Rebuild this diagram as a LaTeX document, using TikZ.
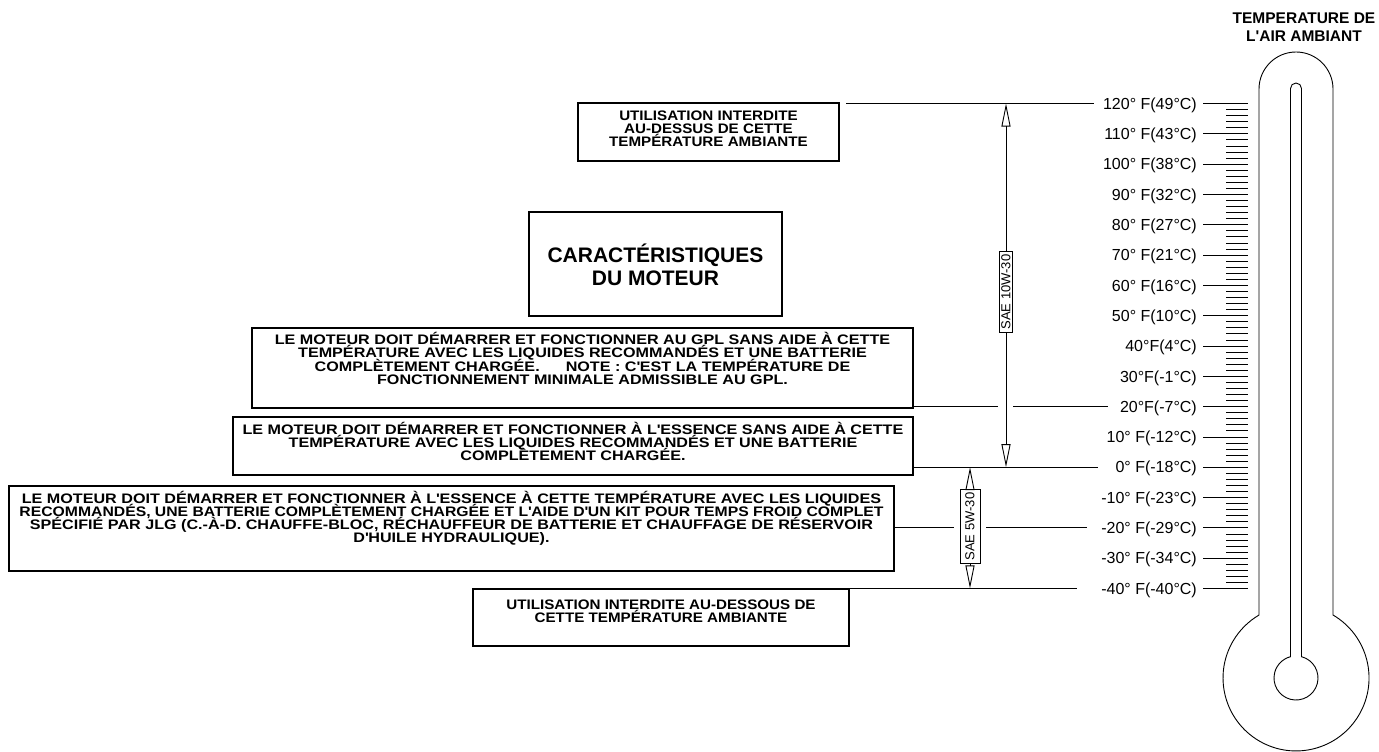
\documentclass[tikz,border=0pt]{standalone}
\usepackage{fontspec}
\setmainfont{Liberation Sans}
\newfontfamily\widesans{Liberation Sans}[FakeStretch=1.17]
\newfontfamily\midsans{Liberation Sans}[FakeStretch=1.1]
\usetikzlibrary{arrows.meta}
% text block of a framed note: width, height, baseline of first line from top, lines
\newcommand\noteblock[4]{\parbox[c][#2][t]{#1}{\lineskiplimit=-\maxdimen\centering
  \vspace*{\dimexpr#3-20pt\relax}\rule{0pt}{20pt}#4\par}}
\begin{document}
\begin{tikzpicture}[x=1pt,y=1pt,
  frame/.style={draw, line width=2pt, inner sep=0pt, anchor=north west},
  widenote/.style={font=\widesans\bfseries\fontsize{13.8}{13.3}\selectfont},
  midnote/.style={font=\midsans\bfseries\fontsize{13.8}{13.5}\selectfont},
  scalelabel/.style={anchor=east, inner sep=0pt, text height=11.5pt, text depth=0pt,
    font=\fontsize{16}{18}\selectfont},
  lead/.style={line width=0.9pt},
  tick/.style={line width=0.8pt},
  tube/.style={line width=0.9pt},
  grade/.style={draw, line width=0.8pt, fill=white, rotate=90,
    font=\fontsize{13}{15}\selectfont, inner xsep=3pt, inner ysep=2pt},
  gradearrow/.style={line width=0.9pt, -{Triangle[open, length=23pt, width=9pt]}},
]
\useasboundingbox (0,0) rectangle (1379,-752);

% ---- thermometer ----
\node[align=center, font=\bfseries\fontsize{15.5}{18.5}\selectfont] (title) at (1304,-27)
  {TEMPERATURE DE\\L\textquotesingle AIR AMBIANT};
\draw[tube] (1259,-615) -- (1259,-89) arc[start angle=180, end angle=0, radius=37]
  -- (1333,-615) arc[start angle=59.57, end angle=-239.57, radius=73];
\draw[tube] (1290.5,-656.7) -- (1290.5,-88.5) arc[start angle=180, end angle=0, radius=5.5]
  -- (1301.5,-656.7) arc[start angle=75.5, end angle=-255.5, radius=22] -- cycle;

% scale labels and graduations
\foreach \k/\t in {0/{120° F(49°C)},1/{110° F(43°C)},2/{100° F(38°C)},3/{90° F(32°C)},
  4/{80° F(27°C)},5/{70° F(21°C)},6/{60° F(16°C)},7/{50° F(10°C)},8/{40°F(4°C)},
  9/{30°F(-1°C)},10/{20°F(-7°C)},11/{10° F(-12°C)},12/{0° F(-18°C)},13/{-10° F(-23°C)},
  14/{-20° F(-29°C)},15/{-30° F(-34°C)},16/{-40° F(-40°C)}}{
  \node[scalelabel] (l\k) at (1197,{-(103.5+30.31*\k)}) {\t};
  \draw[tick, shorten <=6pt] (l\k.east) -- (1248,{-(103.5+30.31*\k)});
}
\foreach \k in {0,...,15}{
  \foreach \j in {1,...,4}{
    \draw[tick] (1226,{-(103.5+30.31*\k+6.062*\j)}) -- (1248,{-(103.5+30.31*\k+6.062*\j)});
  }
}

% ---- notes ----
\node[frame, midnote] (b1) at (577,-102) {\noteblock{261pt}{58pt}{17pt}{%
  UTILISATION INTERDITE\\AU-DESSUS DE CETTE\\TEMPÉRATURE AMBIANTE}};
\node[frame, font=\bfseries\fontsize{21}{23}\selectfont] (b2) at (528,-211)
  {\noteblock{253pt}{104pt}{50pt}{CARACTÉRISTIQUES\\DU MOTEUR}};
\node[frame, widenote] (b3) at (251,-327) {\noteblock{661pt}{80pt}{16.5pt}{%
  LE MOTEUR DOIT DÉMARRER ET FONCTIONNER AU GPL SANS AIDE À CETTE\\
  TEMPÉRATURE AVEC LES LIQUIDES RECOMMANDÉS ET UNE BATTERIE\\
  COMPLÈTEMENT CHARGÉE.\hspace{26pt}NOTE : C\textquotesingle EST LA TEMPÉRATURE DE\\
  FONCTIONNEMENT MINIMALE ADMISSIBLE AU GPL.}};
\node[frame, widenote] (b4) at (232,-416) {\noteblock{680pt}{58pt}{17pt}{%
  LE MOTEUR DOIT DÉMARRER ET FONCTIONNER À L\textquotesingle ESSENCE SANS AIDE À CETTE\hspace*{12pt}\\
  TEMPÉRATURE AVEC LES LIQUIDES RECOMMANDÉS ET UNE BATTERIE\\
  COMPLÈTEMENT CHARGÉE.}};
\node[frame, widenote] (b5) at (8,-485) {\noteblock{885pt}{85pt}{17pt}{%
  LE MOTEUR DOIT DÉMARRER ET FONCTIONNER À L\textquotesingle ESSENCE À CETTE TEMPÉRATURE AVEC LES LIQUIDES\\
  \scalebox{0.975}[1]{RECOMMANDÉS, UNE BATTERIE COMPLÈTEMENT CHARGÉE ET L\textquotesingle AIDE D\textquotesingle UN KIT POUR TEMPS FROID COMPLET}\\
  SPÉCIFIÉ PAR JLG (C.-À-D. CHAUFFE-BLOC, RÉCHAUFFEUR DE BATTERIE ET CHAUFFAGE DE RÉSERVOIR\\
  D\textquotesingle HUILE HYDRAULIQUE).}};
\node[frame, midnote] (b6) at (472,-588) {\noteblock{376pt}{57pt}{20pt}{%
  UTILISATION INTERDITE AU-DESSOUS DE\\CETTE TEMPÉRATURE AMBIANTE}};

% ---- oil grades ----
\coordinate (top10) at (1006,-103.5);
\coordinate (bot10) at (1006,{-(103.5+30.31*12)});
\coordinate (top5) at (970,{-(103.5+30.31*12)});
\coordinate (bot5) at (970,{-(103.5+30.31*16)});
\node[grade] (sae10) at (1006,-292) {SAE 10W-30};
\node[grade, minimum height=20pt] (sae5) at (970,-526.5) {SAE 5W-30};
\draw[gradearrow] (sae10.east) -- (top10);
\draw[gradearrow] (sae10.west) -- (bot10);
\draw[gradearrow] (sae5.east) -- (top5);
\draw[gradearrow] (sae5.west) -- (bot5);

% ---- leader lines from the notes to the scale ----
\draw[lead, shorten <=6pt, shorten >=9pt] (b1.east |- l0.west) -- (l0.west);
\draw[lead, shorten >=8pt] (b3.east |- l10.west) -- (top10 |- l10.west);
\draw[lead, shorten <=7pt, shorten >=12pt] (top10 |- l10.west) -- (l10.west);
\draw[lead, shorten >=17pt] (b4.east |- l12.west) -- (l12.west);
\draw[lead, shorten >=6pt] (b5.east |- l14.west) -- (sae5.north |- l14.west);
\draw[lead, shorten <=6pt, shorten >=14pt] (sae5.south |- l14.west) -- (l14.west);
\draw[lead, shorten >=24pt] (b6.east |- l16.west) -- (l16.west);
\end{tikzpicture}
\end{document}
